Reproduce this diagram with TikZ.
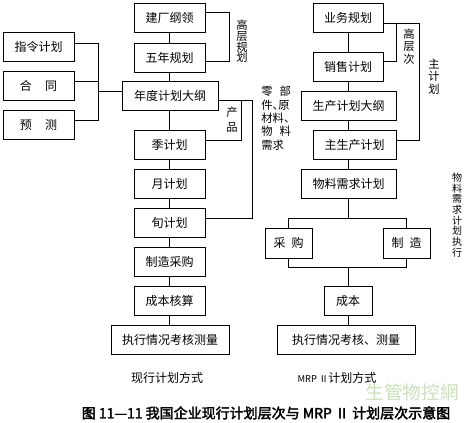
\documentclass[tikz,border=0pt]{standalone}
\usepackage{fontspec}
\setmainfont{Noto Sans CJK SC}
\newfontfamily\cjkB[FakeBold=2.5]{Noto Sans CJK SC}
\definecolor{wmark}{RGB}{200,226,185}
\begin{document}
\begin{tikzpicture}[x=0.75pt,y=-0.75pt,
  box/.style={draw, line width=0.6pt, inner sep=0pt, minimum height=21.75pt, font=\fontsize{9pt}{10pt}\selectfont},
  wA/.style={minimum width=53.25pt},
  wB/.style={minimum width=71.25pt},
  vlab/.style={align=center, inner sep=0pt},
  every path/.style={line width=0.6pt}]
\useasboundingbox (0,0) rectangle (464,423);
% left column
\node[box,wA] (jc) at (169.5,18) {建厂纲领};
\node[box,wA] (wn) at (169.5,57.5) {五年规划};
\node[box,minimum width=72pt] (nd) at (170,95.5) {年度计划大纲};
\node[box,wA] (zl) at (38.5,46.5) {指令计划};
\node[box,wA] (ht) at (38.5,85.5) {合\hspace{1.1em}同};
\node[box,wA] (yc) at (38.5,125) {预\hspace{1.1em}测};
\node[box,wA] (jj) at (169.5,144.5) {季计划};
\node[box,wA] (yj) at (169.5,183.5) {月计划};
\node[box,wA] (xj) at (169.5,222.5) {旬计划};
\node[box,wA] (zc) at (169.5,262) {制造采购};
\node[box,wA] (cb) at (169.5,300.5) {成本核算};
\node[box,minimum width=88.5pt] (zx) at (170,340) {执行情况考核测量};
% right column
\node[box,minimum width=52.5pt] (yw) at (348,17.5) {业务规划};
\node[box,minimum width=52.5pt] (xs) at (348,66.5) {销售计划};
\node[box,wB] (sc) at (348.5,105.5) {生产计划大纲};
\node[box,minimum width=62.25pt] (zs) at (354.5,144.5) {主生产计划};
\node[box,wB] (wl) at (348.5,183.5) {物料需求计划};
\node[box,minimum width=35.25pt,minimum height=22.5pt] (cg) at (288.5,243) {采\hspace{0.5em}购};
\node[box,minimum width=35.25pt,minimum height=22.5pt] (zz) at (406.5,243) {制\hspace{0.5em}造};
\node[box,minimum width=36pt] (cb2) at (348,300.5) {成本};
\node[box,minimum width=103.5pt] (zx2) at (346,340) {执行情况考核、测量};
% coordinates
\coordinate (L1) at (98,43);
\coordinate (L2) at (98,81);
\coordinate (L3) at (98,120);
\coordinate (L4) at (98,91);
\coordinate (T1) at (229,12);
\coordinate (T2) at (229,61);
\coordinate (R1) at (252,100);
\coordinate (R2) at (252,218);
\coordinate (R3) at (241,100);
\coordinate (R4) at (241,140);
\coordinate (cx) at (348,0);
\coordinate (M1) at (348,218);
\coordinate (M2) at (348,267);
\coordinate (B1) at (396,23);
\coordinate (B2) at (396,61);
\coordinate (B3) at (419,23);
\coordinate (B4) at (419,140);
% left connectors
\draw (jc.south) -- (wn.north);
\draw (wn.south) -- (wn.south |- nd.north);
\draw (wn.south |- nd.south) -- (jj.north);
\draw (jj.south) -- (yj.north);
\draw (yj.south) -- (xj.north);
\draw (xj.south) -- (zc.north);
\draw (zc.south) -- (cb.north);
\draw (cb.south) -- (cb.south |- zx.north);
\draw (zl.east |- L1) -- (L1) -- (L3) -- (yc.east |- L3);
\draw (ht.east |- L2) -- (L2);
\draw (L4) -- (nd.west |- L4);
\draw (jc.east |- T1) -- (T1) -- (T2) -- (wn.east |- T2);
\draw (nd.east |- R1) -- (R1) -- (R2) -- (xj.east |- R2);
\draw (R3) -- (R4) -- (jj.east |- R4);
% right connectors
\draw (yw.south) -- (xs.north);
\draw (xs.south) -- (cx |- sc.north);
\draw (cx |- sc.south) -- (cx |- zs.north);
\draw (cx |- zs.south) -- (cx |- wl.north);
\draw (cx |- wl.south) -- (M1);
\draw (cg.north |- M1) -- (zz.north |- M1);
\draw (cg.north |- M1) -- (cg.north);
\draw (zz.north |- M1) -- (zz.north);
\draw (cg.south) -- (cg.south |- M2) -- (zz.south |- M2) -- (zz.south);
\draw (M2) -- (cb2.north);
\draw (cb2.south) -- (cx |- zx2.north);
\draw (yw.east |- B1) -- (B3) -- (B4) -- (zs.east |- B4);
\draw (B1) -- (B2) -- (xs.east |- B2);
% labels
\node[vlab,font=\fontsize{8.5pt}{8pt}\selectfont] (gcgh) at (242,41.5) {高\\层\\规\\划};
\node[vlab,font=\fontsize{8.5pt}{11.25pt}\selectfont] (cp) at (232,119.5) {产\\品};
\node[anchor=north west,align=left,inner sep=0pt,font=\fontsize{8.5pt}{10pt}\selectfont] (lbj) at (261,86) {零\hspace{0.6em}部\\件、\hspace{-0.5em}原\\材料、\\物\hspace{0.6em}料\\需求};
\node[vlab,font=\fontsize{8.5pt}{9.4pt}\selectfont] (gcc) at (409,46.5) {高\\层\\次};
\node[vlab,font=\fontsize{8.5pt}{9.4pt}\selectfont] (zjh) at (434,76.5) {主\\计\\划};
\node[vlab,font=\fontsize{7.5pt}{8pt}\selectfont] (wlzx) at (457,215) {物\\料\\需\\求\\计\\划\\执\\行};
\node[inner sep=0pt,font=\fontsize{9pt}{10pt}\selectfont] (cap1) at (167,378) {现行计划方式};
\node[inner sep=0pt,font=\fontsize{9pt}{10pt}\selectfont] (cap2) at (337,378) {{\fontsize{7pt}{8pt}\selectfont MRP Ⅱ}计划方式};
\node[inner sep=0pt,font=\fontsize{14pt}{16pt}\selectfont,text=wmark] (wm) at (412,392) {生管物控網};
\node[inner sep=0pt,font=\cjkB\fontsize{10.5pt}{12pt}\selectfont] (title) at (266,413) {图 11—11 我国企业现行计划层次与 MRP Ⅱ 计划层次示意图};
\end{tikzpicture}
\end{document}
